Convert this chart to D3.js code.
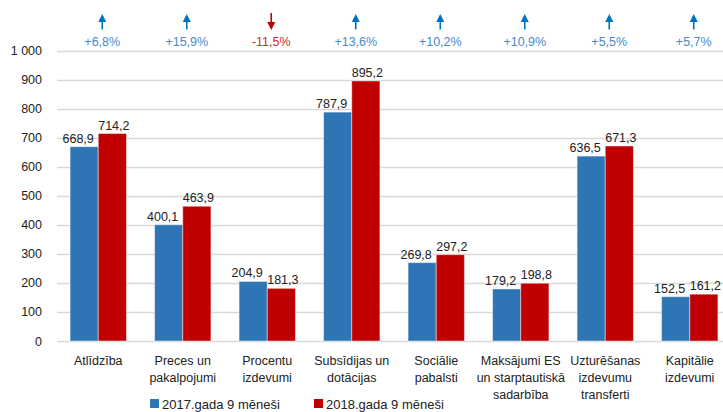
<!DOCTYPE html>
<html>
<head>
<meta charset="utf-8">
<script src="https://cdn.jsdelivr.net/npm/d3@7"></script>
<style>
  html, body { margin: 0; padding: 0; background: #fff; }
  svg { display: block; font-family: "Liberation Sans", Arial, sans-serif; }
</style>
</head>
<body>
<svg id="chart" width="723" height="412"></svg>
<script>
const categories = [
  ["Atlīdzība"],
  ["Preces un", "pakalpojumi"],
  ["Procentu", "izdevumi"],
  ["Subsīdijas un", "dotācijas"],
  ["Sociālie", "pabalsti"],
  ["Maksājumi ES", "un starptautiskā", "sadarbība"],
  ["Uzturēšanas", "izdevumu", "transferti"],
  ["Kapitālie", "izdevumi"]
];
const seriesNames = ["2017.gada 9 mēneši", "2018.gada 9 mēneši"];
const values2017 = [668.9, 400.1, 204.9, 787.9, 269.8, 179.2, 636.5, 152.5];
const values2018 = [714.2, 463.9, 181.3, 895.2, 297.2, 198.8, 671.3, 161.2];
const changes = ["+6,8%", "+15,9%", "-11,5%", "+13,6%", "+10,2%", "+10,9%", "+5,5%", "+5,7%"];
const yTicks = [0, 100, 200, 300, 400, 500, 600, 700, 800, 900, 1000];

const colors = ["#2E75B6", "#C00000"];
const svg = d3.select("#chart");

const y = d3.scaleLinear().domain([0, 1000]).range([341, 50.5]);
const idx = d3.range(categories.length);
const x0 = d3.scaleBand().domain(idx).range([56, 732]).padding(0);
const x1 = d3.scaleBand().domain([0, 1]).range([0, x0.bandwidth()]).paddingInner(0).paddingOuter(0.5);

const fmt = v => d3.format(".1f")(v).replace(".", ",");
const fmtTick = v => v >= 1000 ? d3.format(",")(v).replace(",", " ") : String(v);

// grid
svg.append("g").selectAll("line").data(yTicks).join("line")
  .attr("x1", 57).attr("x2", 723)
  .attr("y1", d => Math.round(y(d)) + 0.5).attr("y2", d => Math.round(y(d)) + 0.5)
  .attr("stroke", "#D9D9D9").attr("stroke-width", 1.3);

// y axis labels
const yAxis = d3.axisLeft(y).tickValues(yTicks).tickFormat(fmtTick).tickSize(0).tickPadding(0);
const yg = svg.append("g").attr("transform", "translate(42,0)").call(yAxis);
yg.select(".domain").remove();
yg.selectAll("text").attr("font-size", 12.5).attr("fill", "#222").attr("font-family", "Liberation Sans, Arial, sans-serif");

// bars
const seriesVals = [values2017, values2018];
const groups = svg.append("g").selectAll("g").data(idx).join("g")
  .attr("transform", i => `translate(${x0(i)},0)`);

groups.selectAll("rect").data(i => seriesVals.map((arr, s) => ({ s, v: arr[i] }))).join("rect")
  .attr("x", d => x1(d.s))
  .attr("width", x1.bandwidth())
  .attr("y", d => y(d.v))
  .attr("height", d => y(0) - y(d.v))
  .attr("fill", d => colors[d.s])
  .attr("stroke", "rgba(255,255,255,0.45)")
  .attr("stroke-width", 1);

// value labels
groups.selectAll("text.val").data(i => seriesVals.map((arr, s) => ({ s, v: arr[i] }))).join("text")
  .attr("class", "val")
  .attr("x", d => x1(d.s) + x1.bandwidth() / 2 + (d.s === 0 ? -6 : 1.5))
  .attr("y", d => y(d.v) - 4)
  .attr("text-anchor", "middle")
  .attr("font-size", 12.5)
  .attr("fill", "#222")
  .text(d => fmt(d.v));

// category labels
groups.append("text")
  .attr("text-anchor", "middle")
  .attr("font-size", 12.5)
  .attr("fill", "#222")
  .selectAll("tspan").data(i => categories[i]).join("tspan")
  .attr("x", x0.bandwidth() / 2)
  .attr("y", (d, k) => 365 + k * 16.8)
  .text(d => d);

// change arrows and percentages
const ann = groups.append("g").attr("transform", `translate(${x0.bandwidth() / 2 + 4},0)`);
ann.each(function (i) {
  const g = d3.select(this);
  const up = !changes[i].startsWith("-");
  const ac = up ? "#0070C0" : "#C00000";
  const tc = up ? "#4A88C9" : "#D22B2B";
  if (up) {
    g.append("line").attr("x1", 0).attr("x2", 0).attr("y1", 20).attr("y2", 29.5)
      .attr("stroke", ac).attr("stroke-width", 1.6);
    g.append("path").attr("d", "M-4,22 L0,14 L4,22 Z").attr("fill", ac);
  } else {
    g.append("line").attr("x1", 0).attr("x2", 0).attr("y1", 13).attr("y2", 23)
      .attr("stroke", ac).attr("stroke-width", 1.6);
    g.append("path").attr("d", "M-4,22 L0,30 L4,22 Z").attr("fill", ac);
  }
  g.append("text").attr("x", 0).attr("y", 46).attr("text-anchor", "middle")
    .attr("font-size", 12.5).attr("fill", tc).text(changes[i]);
});

// legend
const legendX = [150, 314];
const lg = svg.append("g").selectAll("g").data(seriesNames).join("g")
  .attr("transform", (d, i) => `translate(${legendX[i]},0)`);
lg.append("rect").attr("x", 0).attr("y", 399).attr("width", 9).attr("height", 9)
  .attr("fill", (d, i) => colors[i]);
lg.append("text").attr("x", 12).attr("y", 408.5).attr("font-size", 13).attr("fill", "#222").text(d => d);
</script>
</body>
</html>
